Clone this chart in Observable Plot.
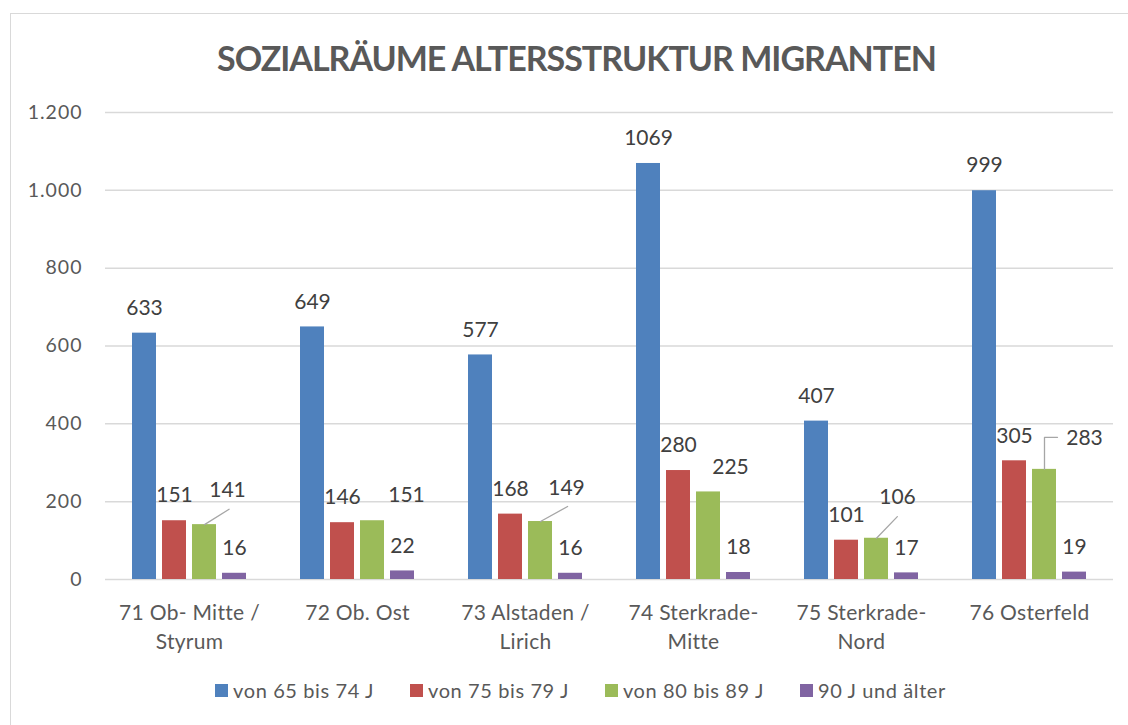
<!DOCTYPE html>
<html>
<head>
<meta charset="utf-8">
<script src="https://cdn.jsdelivr.net/npm/d3@7"></script>
<script src="https://cdn.jsdelivr.net/npm/@observablehq/plot@0.6"></script>
<style>
  html, body { margin: 0; padding: 0; background: #fff; }
  body { width: 1128px; height: 725px; position: relative; overflow: hidden; font-family: Lato, "Open Sans", sans-serif; }
  #frame { position: absolute; left: 10px; top: 13px; width: 1130px; height: 720px; border: 1.5px solid #d9d9d9; box-sizing: border-box; }
  #title { position: absolute; left: 10px; width: 1133px; top: 37px; text-align: center; font-size: 34px; font-weight: bold; color: #595959; letter-spacing: -1px; }
  #chart { position: absolute; left: 0; top: 0; }
  #legend { position: absolute; left: 0; width: 1161px; top: 678px; display: flex; justify-content: center; gap: 36px; font-size: 20px; letter-spacing: 0.6px; color: #595959; }
  .item { display: flex; align-items: center; gap: 5px; }
  .sw { width: 13px; height: 13px; display: inline-block; }
</style>
</head>
<body>
<div id="frame"></div>
<div id="title">SOZIALRÄUME ALTERSSTRUKTUR MIGRANTEN</div>
<div id="chart"></div>
<div id="legend"></div>
<script>
const categories = ["71 Ob- Mitte / Styrum", "72 Ob. Ost", "73 Alstaden / Lirich", "74 Sterkrade-Mitte", "75 Sterkrade-Nord", "76 Osterfeld"];
const categoryLines = ["71 Ob- Mitte /\nStyrum", "72 Ob. Ost", "73 Alstaden /\nLirich", "74 Sterkrade-\nMitte", "75 Sterkrade-\nNord", "76 Osterfeld"];
const series = ["von 65 bis 74 J", "von 75 bis 79 J", "von 80 bis 89 J", "90 J und älter"];
const colors = ["#4f81bd", "#c0504d", "#9bbb59", "#8064a2"];
const v65to74 = [633, 649, 577, 1069, 407, 999];
const v75to79 = [151, 146, 168, 280, 101, 305];
const v80to89 = [141, 151, 149, 225, 106, 283];
const v90plus = [16, 22, 16, 18, 17, 19];
const yTicks = [0, 200, 400, 600, 800, 1000, 1200];
const yTickLabels = ["0", "200", "400", "600", "800", "1.000", "1.200"];

const seriesValues = [v65to74, v75to79, v80to89, v90plus];
const data = [];
categories.forEach((c, i) => {
  series.forEach((s, j) => data.push({category: c, series: s, value: seriesValues[j][i], ci: i, sj: j}));
});

// label nudges for the green series (pixels), as placed in the original
const greenNudge = [[23, -9], [34, 0], [26, -8], [22, 0], [21, -16], [40, -6]];
// leader lines (pixels / degrees)
const leaders = [
  {ci: 0, len: 29, angle: 58},
  {ci: 2, len: 31, angle: 61},
  {ci: 4, len: 30, angle: 44},
  {ci: 5, len: 32, angle: 0, elbow: 13}
];

const labelColor = "#404040";
const labelSize = 21;
const straight = {draw(ctx, l) { ctx.moveTo(0, 0); ctx.lineTo(0, -l); }};

const marks = [
  Plot.gridY(yTicks, {stroke: "#d9d9d9", strokeOpacity: 1, strokeWidth: 1.5}),
  Plot.axisY(yTicks, {tickSize: 0, tickPadding: 23, fontSize: 19.5, fill: "#595959",
    tickFormat: d => yTickLabels[yTicks.indexOf(d)]}),
  Plot.axisFx({anchor: "bottom", tickSize: 0, tickPadding: 19, fontSize: 21, fill: "#595959", lineHeight: 1.42,
    tickFormat: d => categoryLines[categories.indexOf(d)]}),
  Plot.barY(data, {fx: "category", x: "series", y: "value", fill: d => colors[d.sj]}),
  Plot.text(data.filter(d => d.sj !== 2), {fx: "category", x: "series", y: "value", text: d => String(d.value),
    dy: -25, lineAnchor: "middle", fontSize: labelSize, fill: labelColor})
];
data.filter(d => d.sj === 2).forEach(d => {
  const [nx, ny] = greenNudge[d.ci];
  marks.push(Plot.text([d], {fx: "category", x: "series", y: "value", text: d => String(d.value),
    dx: nx, dy: -25 + ny, lineAnchor: "middle", fontSize: labelSize, fill: labelColor}));
});
leaders.forEach(L => {
  const d = data.find(r => r.ci === L.ci && r.sj === 2);
  const shape = L.elbow ? {draw(ctx, l) { ctx.moveTo(0, 0); ctx.lineTo(0, -l); ctx.lineTo(L.elbow, -l); }} : straight;
  marks.push(Plot.vector([d], {fx: "category", x: "series", y: "value", length: L.len, rotate: L.angle,
    anchor: "start", shape, stroke: "#a6a6a6", strokeWidth: 1.3, fill: "none"}));
});

const chart = Plot.plot({
  width: 1128,
  height: 660,
  marginTop: 112,
  marginBottom: 81,
  marginLeft: 105,
  marginRight: 15,
  style: {fontFamily: "Lato, 'Open Sans', sans-serif", fontSize: "19px", color: "#595959", background: "transparent"},
  fx: {domain: categories, padding: 0, label: null},
  x: {domain: series, paddingInner: 0.2, paddingOuter: 0.86, axis: null},
  y: {domain: [0, 1200], label: null},
  marks
});
d3.select(chart).selectAll('g[aria-label="y-axis tick label"]').style("letter-spacing", "1px");
d3.select(chart).selectAll('g[aria-label="fx-axis tick label"]').style("letter-spacing", "0.3px");
document.getElementById("chart").appendChild(chart);

const legend = document.getElementById("legend");
series.forEach((s, j) => {
  const item = document.createElement("div");
  item.className = "item";
  item.innerHTML = `<span class="sw" style="background:${colors[j]}"></span><span>${s}</span>`;
  legend.appendChild(item);
});
</script>
</body>
</html>
